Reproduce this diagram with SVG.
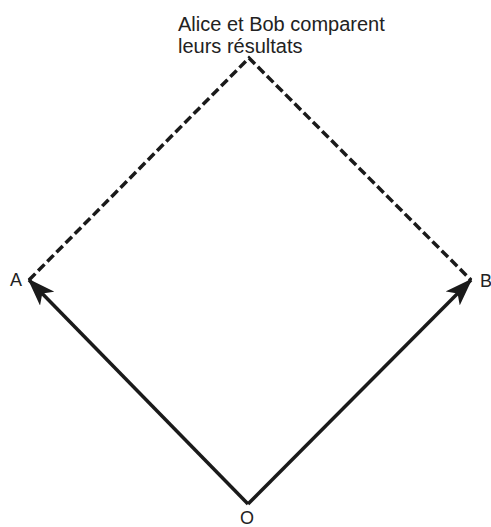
<svg xmlns="http://www.w3.org/2000/svg" width="491" height="527" viewBox="0 0 491 527">
<defs>
<style>
.lbl{font-family:"Liberation Sans",Arial,sans-serif;font-size:18px;fill:#222}
.ttl{font-family:"Liberation Sans",Arial,sans-serif;font-size:20px;fill:#222}
.solid{stroke:#1a1a1a;stroke-width:3.5;fill:none}
.dash{stroke:#1a1a1a;stroke-width:3.5;fill:none;stroke-dasharray:9 4}
</style>
<marker id="ah" viewBox="0 0 28 20" refX="26" refY="10" markerWidth="28" markerHeight="20" markerUnits="userSpaceOnUse" orient="auto">
<path d="M0,0 L28,10 L0,20 L7,10 Z" fill="#1a1a1a"/>
</marker>
</defs>
<rect width="491" height="527" fill="#fff"/>
<g id="connectors">
<line class="solid" x1="248" y1="504" x2="29" y2="280" marker-end="url(#ah)"/>
<line class="solid" x1="248" y1="504" x2="471" y2="280" marker-end="url(#ah)"/>
<polyline class="dash" points="29,280 249,58 471,280"/>
</g>
<g id="node-top"><text class="ttl" x="178" y="31">Alice et Bob comparent</text><text class="ttl" x="178" y="53">leurs résultats</text></g>
<g id="node-A"><text class="lbl" x="10" y="286">A</text></g>
<g id="node-B"><text class="lbl" x="480" y="287">B</text></g>
<g id="node-O"><text class="lbl" x="247" y="524" text-anchor="middle">O</text></g>
</svg>
